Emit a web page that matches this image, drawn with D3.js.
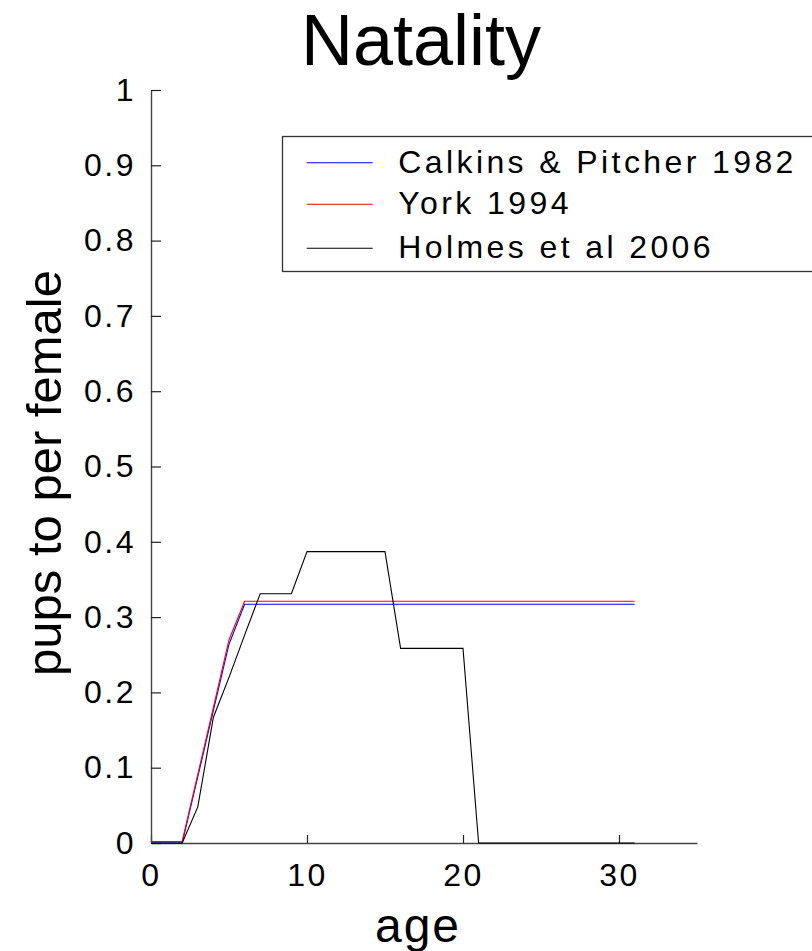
<!DOCTYPE html>
<html>
<head>
<meta charset="utf-8">
<script src="https://cdn.jsdelivr.net/npm/d3@7"></script>
<style>
  html, body { margin: 0; padding: 0; background: #fff; }
  svg { display: block; }
  text { font-family: "Liberation Sans", Arial, sans-serif; fill: #000; }
</style>
</head>
<body>
<svg id="chart" width="812" height="951"></svg>
<script>
// Age classes (years)
const ages = d3.range(0, 32);

// Pups per female by age, three published schedules
const calkins1982 = [0, 0, 0, 0.088, 0.176, 0.264, 0.317,
  0.317, 0.317, 0.317, 0.317, 0.317, 0.317, 0.317, 0.317, 0.317, 0.317,
  0.317, 0.317, 0.317, 0.317, 0.317, 0.317, 0.317, 0.317, 0.317, 0.317,
  0.317, 0.317, 0.317, 0.317, 0.317];
const york1994 = [0.002, 0.002, 0.002, 0.091, 0.180, 0.270, 0.321,
  0.321, 0.321, 0.321, 0.321, 0.321, 0.321, 0.321, 0.321, 0.321, 0.321,
  0.321, 0.321, 0.321, 0.321, 0.321, 0.321, 0.321, 0.321, 0.321, 0.321,
  0.321, 0.321, 0.321, 0.321, 0.321];
const holmes2006 = [0, 0, 0, 0.048, 0.167, 0.220, 0.276,
  0.331, 0.331, 0.331, 0.387, 0.387, 0.387, 0.387, 0.387, 0.387,
  0.2585, 0.2585, 0.2585, 0.2585, 0.2585,
  0, 0, 0, 0, 0, 0, 0, 0, 0, 0, 0];

const seriesNames = ["Calkins & Pitcher 1982", "York 1994", "Holmes et al 2006"];
const seriesColors = ["#0000ff", "#ff0000", "#000000"];
const seriesValues = [calkins1982, york1994, holmes2006];

const xTicks = [0, 10, 20, 30];
const yTicks = [0, 0.1, 0.2, 0.3, 0.4, 0.5, 0.6, 0.7, 0.8, 0.9, 1];

const titleText = "Natality";
const xLabel = "age";
const yLabel = "pups to per female";

const svg = d3.select("#chart");

const x = d3.scaleLinear().domain([0, 35]).range([151, 697]);
const y = d3.scaleLinear().domain([0, 1]).range([843, 90]);

const fmt = d => (d === 0 ? "0" : d === 1 ? "1" : d.toFixed(1));

// Axes with inward ticks, no box
const xAxis = d3.axisBottom(x).tickValues(xTicks).tickFormat(d3.format("d"))
  .tickSizeInner(-8).tickSizeOuter(0).tickPadding(20);
const yAxis = d3.axisLeft(y).tickValues(yTicks).tickFormat(fmt)
  .tickSizeInner(-10).tickSizeOuter(0).tickPadding(15);

const gx = svg.append("g").attr("transform", `translate(0,${y(0)})`).call(xAxis);
const gy = svg.append("g").attr("transform", `translate(${x(0)},0)`).call(yAxis);

[gx, gy].forEach(g => {
  g.select(".domain").attr("stroke", "#444").attr("stroke-width", 1.4);
  g.selectAll(".tick line").attr("stroke", "#222").attr("stroke-width", 1.2);
  g.selectAll(".tick text")
    .attr("fill", "#000")
    .style("font-family", '"Liberation Sans", Arial, sans-serif')
    .style("font-size", "32px")
    .style("letter-spacing", "2.5px");
});

// Data lines
const line = d3.line().x((d, i) => x(ages[i])).y(d => y(d));
seriesValues.forEach((vals, k) => {
  svg.append("path")
    .datum(vals)
    .attr("fill", "none")
    .attr("stroke", seriesColors[k])
    .attr("stroke-width", 1.1)
    .attr("stroke-linejoin", "miter")
    .attr("d", line);
});

// Legend
const legend = svg.append("g");
legend.append("rect")
  .attr("x", 282.5).attr("y", 136.5)
  .attr("width", 560).attr("height", 135)
  .attr("fill", "#fff").attr("stroke", "#333").attr("stroke-width", 1.3);
const rowY = [162.7, 204.3, 248.3];
seriesNames.forEach((name, k) => {
  legend.append("line")
    .attr("x1", 306.7).attr("x2", 372.7)
    .attr("y1", rowY[k]).attr("y2", rowY[k])
    .attr("stroke", seriesColors[k]).attr("stroke-width", 1.1);
  legend.append("text")
    .attr("x", 398.3).attr("y", rowY[k] + 10)
    .style("font-size", "32px")
    .style("letter-spacing", "3.4px")
    .text(name);
});

// Title and axis labels
svg.append("text")
  .attr("x", 421).attr("y", 65)
  .attr("text-anchor", "middle")
  .style("font-size", "72px")
  .text(titleText);

svg.append("text")
  .attr("x", 418).attr("y", 942)
  .attr("text-anchor", "middle")
  .style("font-size", "48px")
  .style("letter-spacing", "2px")
  .text(xLabel);

svg.append("text")
  .attr("transform", `translate(61,473) rotate(-90)`)
  .attr("text-anchor", "middle")
  .style("font-size", "49px")
  .text(yLabel);
</script>
</body>
</html>
